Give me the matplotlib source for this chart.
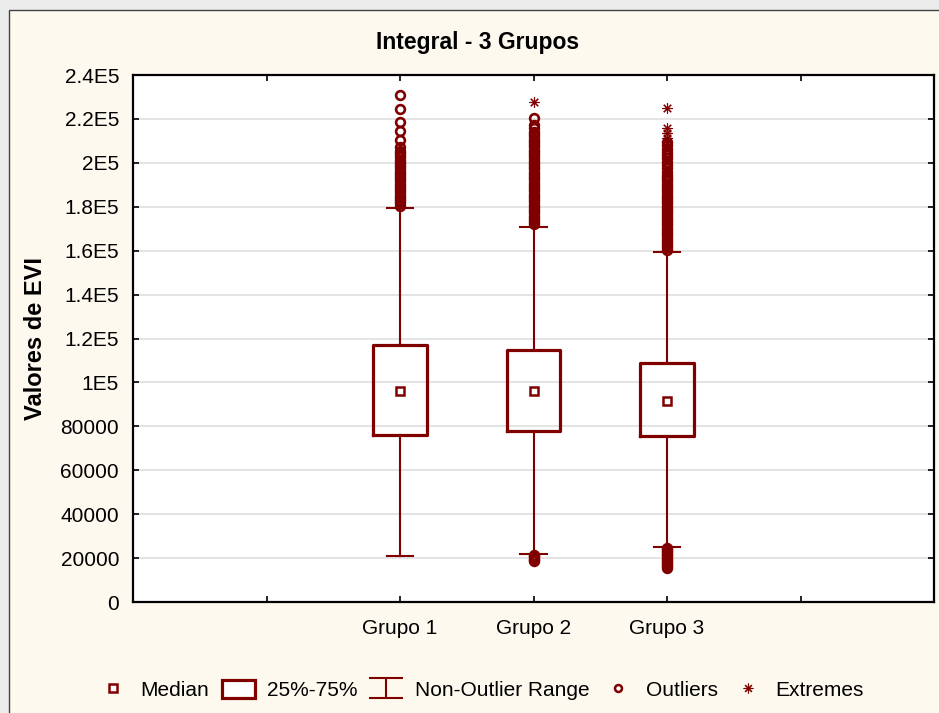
import matplotlib
matplotlib.use("Agg")
import matplotlib.pyplot as plt
from matplotlib.patches import Rectangle
from matplotlib.lines import Line2D
from matplotlib.path import Path

plt.rcParams['font.family'] = ['Liberation Sans', 'DejaVu Sans']

RED = '#800000'

groups = ['Grupo 1', 'Grupo 2', 'Grupo 3']
medians = [96100, 96100, 91600]
q1 = [76100, 77900, 75600]
q3 = [117000, 114600, 108700]
whis_lo = [21000, 21700, 25200]
whis_hi = [179400, 170900, 159500]

# outliers (circles) and extremes (asterisks) per group
outliers = [
    [180500, 181500, 182500, 183500, 184500, 185500, 186500, 187500, 188500,
     189500, 190500, 191500, 192500, 193500, 194500, 195500, 196500, 197500,
     198500, 199500, 200500, 201500, 202500, 203500, 204500, 205500, 207300,
     210400, 214600, 218700, 224400, 231000],
    [18800, 19300, 19800, 20300, 20800, 21300,
     172000, 173000, 174000, 175000, 176000, 177000, 178000, 179000, 180000,
     181000, 182000, 183000, 184000, 185000, 186000, 187000, 188000, 189000,
     190000, 191000, 192000, 193000, 194000, 195000, 196000, 197000, 198000,
     199000, 200000, 201000, 202000, 203000, 204000, 205000, 206000, 207000,
     208000, 209000, 210000, 211000, 212000, 213000, 214000, 215700, 217200,
     220200],
    [15600, 16300, 17000, 17700, 18400, 19100, 19800, 20500, 21200, 21900,
     22600, 23300, 24000, 24700,
     160500, 161500, 162500, 163500, 164500, 165500, 166500, 167500, 168500,
     169500, 170500, 171500, 172500, 173500, 174500, 175500, 176500, 177500,
     178500, 179500, 180500, 181500, 182500, 183500, 184500, 185500, 186500,
     187500, 188500, 189500, 190500, 191500, 192500, 193500, 194500, 196000,
     197500, 199000, 200500, 202000, 203500, 205000, 206500, 208000, 209300],
]
extremes = [
    [],
    [227800],
    [209700, 211200, 213400, 215700, 224800],
]

yticks = [0, 20000, 40000, 60000, 80000, 100000, 120000, 140000, 160000,
          180000, 200000, 220000, 240000]
ytick_labels = ['0', '20000', '40000', '60000', '80000', '1E5', '1.2E5',
                '1.4E5', '1.6E5', '1.8E5', '2E5', '2.2E5', '2.4E5']
positions = [2, 3, 4]

fig = plt.figure(figsize=(9.39, 7.13), dpi=100)
fig.patch.set_facecolor('#ECECEC')
fig.patches.append(Rectangle((9 / 939, -0.1), 1.2, 1.1 - 10.5 / 713,
                             transform=fig.transFigure, facecolor='#FDF9EE',
                             edgecolor='#444444', linewidth=1.0, zorder=-10))

ax = fig.add_axes([133 / 939, 111 / 713, 801 / 939, 527 / 713])
ax.set_facecolor('white')

stats = []
for i in range(3):
    stats.append(dict(med=medians[i], q1=q1[i], q3=q3[i],
                      whislo=whis_lo[i], whishi=whis_hi[i], fliers=[],
                      label=groups[i]))

ax.bxp(stats, positions=positions, widths=0.4, capwidths=0.2,
       showfliers=False, manage_ticks=False,
       boxprops=dict(color=RED, linewidth=2.3),
       whiskerprops=dict(color=RED, linewidth=1.5),
       capprops=dict(color=RED, linewidth=1.5),
       medianprops=dict(linewidth=0))

ax.plot(positions, medians, ls='none', marker='s', ms=6, mfc='white',
        mec=RED, mew=1.8, zorder=4)

for pos, vals in zip(positions, outliers):
    ax.plot([pos] * len(vals), vals, ls='none', marker='o', ms=6.3,
            mfc='none', mec=RED, mew=1.9, zorder=4)

for pos, vals in zip(positions, extremes):
    ax.plot([pos] * len(vals), vals, ls='none', marker=(8, 2, 0), ms=7.5,
            color=RED, mew=0.8, zorder=4)

ax.set_xlim(0, 6)
ax.set_ylim(0, 240000)
ax.set_xticks(range(7))
ax.set_xticklabels(['', ''] + groups + ['', ''])
ax.set_yticks(yticks)
ax.set_yticklabels(ytick_labels)
ax.tick_params(direction='in', length=4, width=1.2, top=True, right=True,
               labelsize=15, colors='black')
ax.tick_params(axis='y', pad=10)
ax.tick_params(axis='x', pad=12)
ax.yaxis.grid(True, color='#E2E2E2', linewidth=1.3)
ax.set_axisbelow(True)
for sp in ax.spines.values():
    sp.set_linewidth(1.6)
    sp.set_color('black')

ax.set_ylabel('Valores de EVI', fontsize=17, fontweight='bold', labelpad=10)
fig.text(478 / 939, 1 - 42 / 713, 'Integral - 3 Grupos', fontsize=16.5,
         fontweight='bold', ha='center', va='center')

# legend symbols
whisker_path = Path([(-0.8, 0.5), (0.8, 0.5), (0, 0.5), (0, -0.5),
                     (-0.8, -0.5), (0.8, -0.5)],
                    [Path.MOVETO, Path.LINETO, Path.MOVETO, Path.LINETO,
                     Path.MOVETO, Path.LINETO])
handles = [
    Line2D([], [], ls='none', marker='s', ms=6, mfc='white', mec=RED, mew=1.8),
    Rectangle((0, 0), 1, 1, facecolor='white', edgecolor=RED, linewidth=2.3),
    Line2D([], [], ls='none', marker=whisker_path, ms=24, mfc='none',
           mec=RED, mew=1.5),
    Line2D([], [], ls='none', marker='o', ms=5, mfc='white', mec=RED, mew=1.8),
    Line2D([], [], ls='none', marker=(8, 2, 0), ms=7, color=RED, mew=0.8),
]
labels = ['Median', '25%-75%', 'Non-Outlier Range', 'Outliers', 'Extremes']
fig.legend(handles, labels, loc='center', bbox_to_anchor=(480 / 939, 23 / 713),
           ncol=5, frameon=False, fontsize=15, handlelength=1.6,
           handleheight=1.0, handletextpad=0.55, columnspacing=0.6)

fig.savefig('out.png', dpi=100, facecolor=fig.get_facecolor())
